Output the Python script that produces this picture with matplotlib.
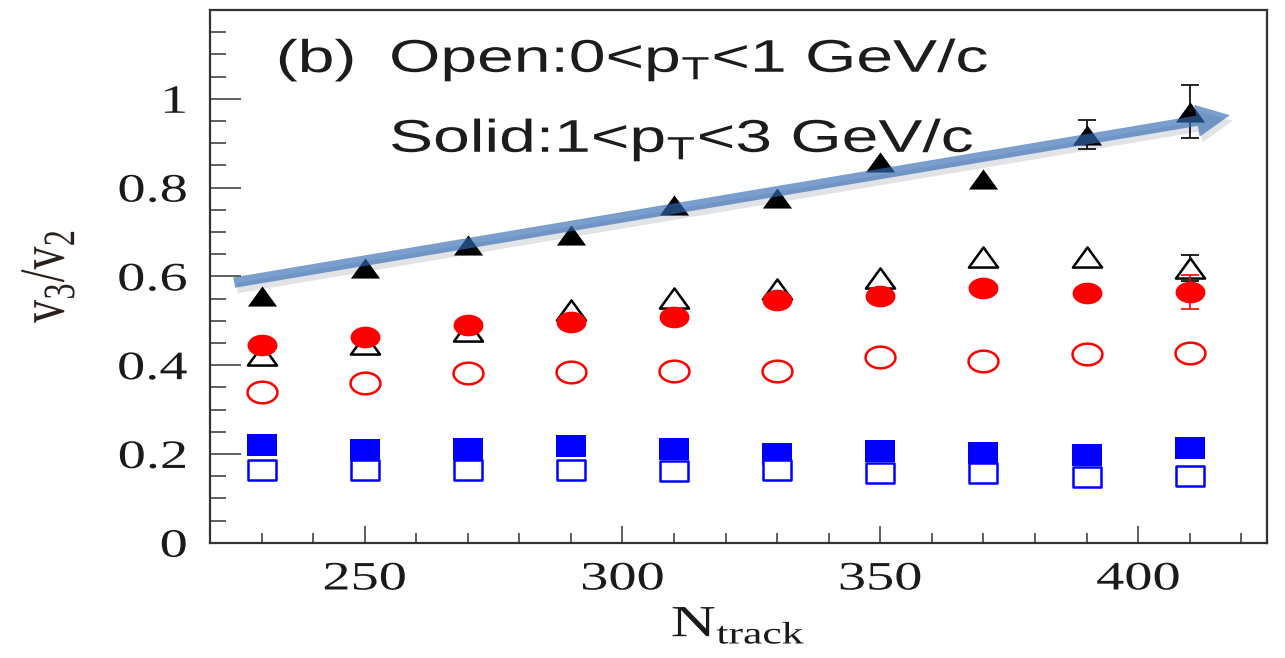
import numpy as np
import matplotlib
matplotlib.use('Agg')
import matplotlib.pyplot as plt
import matplotlib.patheffects as pe
from matplotlib.patches import FancyArrowPatch
from matplotlib.path import Path
from matplotlib.transforms import Affine2D
from matplotlib.ticker import MultipleLocator

### Daten
n_track = [230, 250, 270, 290, 310, 330, 350, 370, 390, 410]

# Dreiecke
tri_solid = [0.555, 0.618, 0.671, 0.694, 0.760, 0.777, 0.858, 0.820, 0.919, 0.971]
tri_solid_err = [0, 0, 0, 0, 0, 0, 0, 0, 0.033, 0.059]
tri_open = [0.423, 0.448, 0.478, 0.525, 0.552, 0.572, 0.597, 0.643, 0.644, 0.619]
tri_open_err = [0, 0, 0, 0, 0, 0, 0, 0, 0, 0.030]

# Kreise
circ_solid = [0.446, 0.463, 0.491, 0.498, 0.508, 0.547, 0.556, 0.574, 0.562, 0.565]
circ_solid_err = [0, 0, 0, 0, 0, 0, 0, 0, 0, 0.038]
circ_open = [0.340, 0.359, 0.382, 0.384, 0.386, 0.386, 0.419, 0.410, 0.426, 0.428]

# Quadrate
sq_solid = [0.219, 0.209, 0.211, 0.218, 0.212, 0.199, 0.207, 0.203, 0.198, 0.213]
sq_open = [0.164, 0.164, 0.163, 0.164, 0.162, 0.164, 0.158, 0.158, 0.147, 0.151]

# Pfeil (Trend der gefuellten Dreiecke)
arrow_start = (224.7, 0.586)
arrow_end = (417.8, 0.963)

text_open = 'Open:0<p$_\\mathdefault{T}$<1 GeV/c'
text_solid = 'Solid:1<p$_\\mathdefault{T}$<3 GeV/c'


### Bild ist horizontal gestreckt -> Text ebenfalls strecken
class Stretch(pe.AbstractPathEffect):
    def __init__(self, sx, anchor=0.5):
        super().__init__()
        self.sx = sx
        self.anchor = anchor

    def draw_path(self, renderer, gc, tpath, affine, rgbFace=None):
        bb = tpath.get_extents(affine)
        x0 = bb.x0 + self.anchor * bb.width
        t = affine + Affine2D().translate(-x0, 0).scale(self.sx, 1).translate(x0, 0)
        renderer.draw_path(gc, tpath, t, rgbFace)


SX = 1.4
s = 1.38  # Marker breiter als hoch
tri_m = Path([(-s * 1.05, -1), (s * 1.05, -1), (0, 1), (0, 0)], closed=True)
sq_m = Path([(-s, -1), (s, -1), (s, 1), (-s, 1), (0, 0)], closed=True)
phi = np.linspace(0, 2 * np.pi, 61)
circ_m = Path(np.column_stack([s * np.cos(phi), np.sin(phi)]), closed=True)

fig = plt.figure(figsize=(12.85, 6.58), dpi=100)
ax = fig.add_axes([0.1634, 0.1752, 0.8226, 0.8096])

x = np.array(n_track)


def draw(y, err, marker, ms, color, filled, z):
    y = np.array(y)
    if err is not None:
        err = np.array(err)
        k = err > 0
        ax.errorbar(x[k], y[k], yerr=err[k], fmt='none', ecolor=color, elinewidth=1.2,
                    capsize=6.5, capthick=1.2, zorder=z)
    ax.plot(x, y, ls='none', marker=marker, ms=ms,
            mfc=color if filled else 'white', mec=color,
            mew=0 if filled else 1.8, zorder=z + 0.1)


draw(sq_solid, None, sq_m, 21.5, '#0000ff', True, 2)
draw(sq_open, None, sq_m, 20, '#0000ff', False, 2.2)
draw(tri_open, tri_open_err, tri_m, 21, 'black', False, 2.4)
draw(circ_solid, circ_solid_err, circ_m, 21.5, '#ff0000', True, 2.6)
draw(circ_open, None, circ_m, 21.5, '#ff0000', False, 2.8)
draw(tri_solid, tri_solid_err, tri_m, 21, 'black', True, 3)

arr = FancyArrowPatch(arrow_start, arrow_end,
                      arrowstyle='simple,head_length=1.6,head_width=1.55,tail_width=0.5',
                      mutation_scale=15, transform=ax.transData,
                      fc=(0.2, 0.42, 0.70, 0.65), ec='none', shrinkA=0, shrinkB=0, zorder=5)
arr.set_path_effects([pe.SimplePatchShadow(offset=(2, -4), alpha=0.12), pe.Normal()])
ax.add_patch(arr)

### Achsen
ax.set_xlim(220, 425)
ax.set_ylim(0, 1.2)
ax.xaxis.set_major_locator(MultipleLocator(50))
ax.xaxis.set_minor_locator(MultipleLocator(10))
ax.yaxis.set_major_locator(MultipleLocator(0.2))
ax.yaxis.set_minor_locator(MultipleLocator(0.05))
ax.set_yticks([0, 0.2, 0.4, 0.6, 0.8, 1.0])
ax.set_yticklabels(['0', '0.2', '0.4', '0.6', '0.8', '1'])
ax.set_xticks([250, 300, 350, 400])
ax.set_xticklabels(['250', '300', '350', '400'])

for sp in ax.spines.values():
    sp.set_color('#333333')
    sp.set_linewidth(1.6)

ax.tick_params(axis='x', which='major', direction='in', length=12.2, width=1.1, pad=13.5,
               color='#333333', labelsize=29, labelcolor='#1a1a1a')
ax.tick_params(axis='x', which='minor', direction='in', length=7.2, width=1.1, color='#333333')
ax.tick_params(axis='y', which='major', direction='in', length=22.3, width=1.1, pad=16.5,
               color='#333333', labelsize=29, labelcolor='#1a1a1a')
ax.tick_params(axis='y', which='minor', direction='in', length=11.5, width=1.1, color='#333333')

for lab in ax.get_xticklabels():
    lab.set_fontfamily('Liberation Serif')
    lab.set_path_effects([Stretch(SX, 0.5)])
for lab in ax.get_yticklabels():
    lab.set_fontfamily('Liberation Serif')
    lab.set_path_effects([Stretch(SX, 1.0)])

ax.set_xlabel('N$_\\mathdefault{track}$', fontfamily='Liberation Serif', fontsize=32,
              color='#1a1a1a', labelpad=5)
ax.xaxis.label.set_path_effects([Stretch(SX, 0.5)])
ax.set_ylabel('v$_\\mathdefault{3}$/v$_\\mathdefault{2}$', fontfamily='Liberation Serif',
              fontsize=33, color='#2b211c', va='center')
ax.yaxis.set_label_coords(-0.1533, 0.5)
ax.yaxis.label.set_path_effects([Stretch(SX, 0.5)])

### Beschriftung
kw = dict(transform=ax.transAxes, fontfamily='Liberation Sans', fontsize=33,
          color='#1c1c1c', va='baseline', ha='left')
t1 = ax.text(0.0634, 0.8836, '(b)', **kw)
t2 = ax.text(0.1703, 0.8836, text_open, **kw)
t3 = ax.text(0.1703, 0.7334, text_solid, **kw)
for t in (t1, t2, t3):
    t.set_path_effects([Stretch(1.44, 0.0)])

fig.savefig('out.png', dpi=100)
